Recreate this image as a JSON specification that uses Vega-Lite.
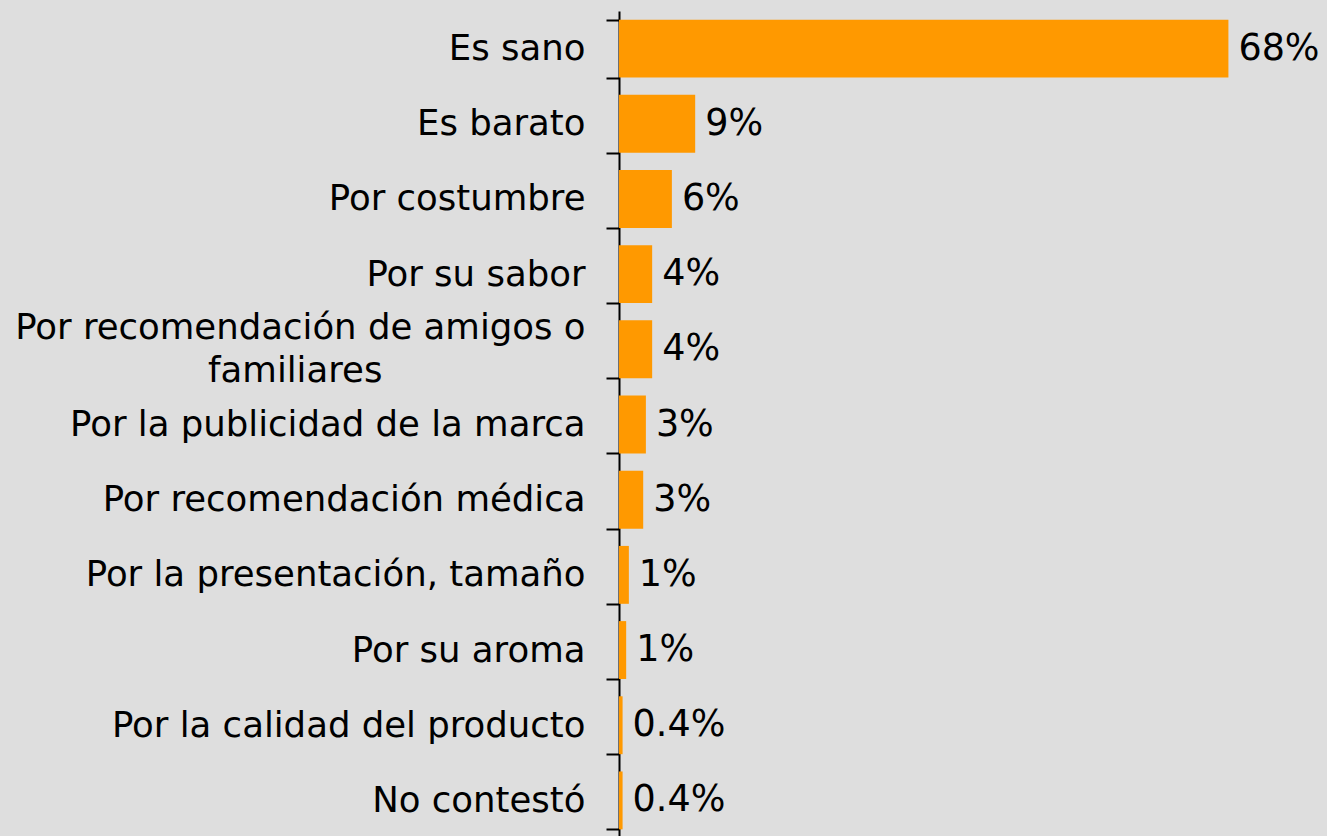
{
  "$schema": "https://vega.github.io/schema/vega-lite/v6.json",
  "width": 708,
  "height": 827,
  "autosize": {"type": "none"},
  "padding": {"left": 619, "top": 11, "right": 0, "bottom": 0},
  "background": "#DEDEDE",
  "config": {"view": {"stroke": null}},
  "data": {
    "values": [
      {"motivo": "Es sano", "valor": 68.0, "etiqueta": "68%"},
      {"motivo": "Es barato", "valor": 8.5, "etiqueta": "9%"},
      {"motivo": "Por costumbre", "valor": 5.9, "etiqueta": "6%"},
      {"motivo": "Por su sabor", "valor": 3.7, "etiqueta": "4%"},
      {"motivo": "Por recomendación de amigos o|familiares\u00a0\u00a0\u00a0\u00a0\u00a0\u00a0\u00a0\u00a0\u00a0\u00a0\u00a0\u00a0\u00a0\u00a0\u00a0\u00a0\u00a0\u00a0\u200b", "valor": 3.7, "etiqueta": "4%"},
      {"motivo": "Por la publicidad de la marca", "valor": 3.0, "etiqueta": "3%"},
      {"motivo": "Por recomendación médica", "valor": 2.7, "etiqueta": "3%"},
      {"motivo": "Por la presentación, tamaño", "valor": 1.1, "etiqueta": "1%"},
      {"motivo": "Por su aroma", "valor": 0.8, "etiqueta": "1%"},
      {"motivo": "Por la calidad del producto", "valor": 0.4, "etiqueta": "0.4%"},
      {"motivo": "No contestó", "valor": 0.4, "etiqueta": "0.4%"}
    ]
  },
  "encoding": {
    "y": {
      "field": "motivo",
      "type": "nominal",
      "sort": null,
      "scale": {"paddingInner": 0.23, "paddingOuter": 0.115},
      "axis": {
        "title": null,
        "labelExpr": "split(datum.label, '|')",
        "labelFont": "DejaVu Sans",
        "labelFontSize": 35.5,
        "labelColor": "#000000",
        "labelLineHeight": 43,
        "labelLimit": 700,
        "labelPadding": 21,
        "labelBaseline": {
          "condition": {"test": "isString(datum.value) && indexof(datum.value, '|') >= 0", "value": "line-bottom"},
          "value": "middle"
        },
        "domainColor": "#000000",
        "domainWidth": 2,
        "tickColor": "#000000",
        "tickWidth": 2,
        "tickSize": 13,
        "tickBand": "extent"
      }
    },
    "x": {
      "field": "valor",
      "type": "quantitative",
      "scale": {"domain": [0, 79], "nice": false},
      "axis": null
    }
  },
  "layer": [
    {"mark": {"type": "bar", "color": "#FF9900"}},
    {
      "mark": {
        "type": "text",
        "align": "left",
        "baseline": "middle",
        "dx": 10,
        "font": "DejaVu Sans",
        "fontSize": 36.5,
        "color": "#000000"
      },
      "encoding": {"text": {"field": "etiqueta"}}
    }
  ]
}
